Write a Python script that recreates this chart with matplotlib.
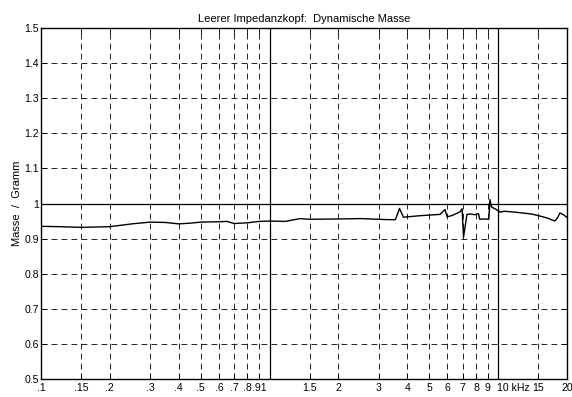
import matplotlib
matplotlib.use("Agg")
import matplotlib.pyplot as plt
from matplotlib.ticker import FixedLocator, NullLocator
from matplotlib.transforms import ScaledTranslation

freq_khz = [0.1, 0.12, 0.15, 0.2, 0.25, 0.3, 0.35, 0.4, 0.45, 0.5, 0.6, 0.65, 0.7, 0.8,
            0.9, 1.0, 1.17, 1.36, 1.5, 2.0, 2.5, 3.0, 3.3, 3.55, 3.7, 3.85, 4.0, 4.5,
            5.0, 5.57, 5.75, 5.85, 5.98, 6.3, 6.8, 6.95, 7.05, 7.15, 7.3, 7.6, 7.9, 8.2,
            8.3, 8.7, 9.1, 9.2, 9.35, 9.8, 10.2, 10.6, 12.0, 14.0, 15.3, 16.5, 17.7,
            18.2, 18.6, 19.3, 20.0]
mass_g = [0.935, 0.934, 0.932, 0.934, 0.942, 0.947, 0.946, 0.942, 0.944, 0.947, 0.948,
          0.949, 0.943, 0.945, 0.949, 0.950, 0.949, 0.957, 0.955, 0.956, 0.957, 0.955,
          0.954, 0.954, 0.986, 0.961, 0.962, 0.965, 0.967, 0.969, 0.978, 0.983, 0.962,
          0.966, 0.976, 0.985, 0.904, 0.930, 0.969, 0.970, 0.968, 0.971, 0.955, 0.956,
          0.955, 1.011, 0.990, 0.983, 0.975, 0.978, 0.975, 0.970, 0.964, 0.958, 0.950,
          0.960, 0.973, 0.968, 0.960]

tick_vals = [0.1, 0.15, 0.2, 0.3, 0.4, 0.5, 0.6, 0.7, 0.8, 0.9, 1, 1.5, 2, 3, 4, 5, 6,
             7, 8, 9, 10, 15, 20]
tick_labels = [".1", ".15", ".2", ".3", ".4", ".5", ".6", ".7", ".8", ".91", "", "1.5",
               "2", "3", "4", "5", "6", "7", "8", "9", "10 kHz", "15", "20"]
y_ticks = [0.5, 0.6, 0.7, 0.8, 0.9, 1.0, 1.1, 1.2, 1.3, 1.4, 1.5]
y_labels = ["0.5", "0.6", "0.7", "0.8", "0.9", "1", "1.1", "1.2", "1.3", "1.4", "1.5"]

plt.rcParams['font.family'] = ['Liberation Sans', 'DejaVu Sans']

fig = plt.figure(figsize=(5.72, 3.97), dpi=100)
ax = fig.add_axes([0.0717, 0.0453, 0.9196, 0.8842])
ax.set_xscale('log')
ax.set_xlim(0.1, 20)
ax.set_ylim(0.5, 1.5)

dash = (0, (7, 5))
for v in tick_vals:
    if v in (1, 10):
        ax.axvline(v, color='black', lw=0.9, zorder=1)
    elif v not in (0.1, 20):
        ax.axvline(v, color='black', lw=0.6, linestyle=dash, zorder=1)
for v in y_ticks:
    if v == 1.0:
        ax.axhline(v, color='black', lw=0.9, zorder=1)
    elif v not in (0.5, 1.5):
        ax.axhline(v, color='black', lw=0.6, linestyle=dash, zorder=1)

ax.plot(freq_khz, mass_g, color='black', lw=1.0, zorder=3)

ax.xaxis.set_major_locator(FixedLocator(tick_vals))
ax.xaxis.set_minor_locator(NullLocator())
ax.set_xticklabels(tick_labels)
ax.set_yticks(y_ticks)
ax.set_yticklabels(y_labels)
ax.tick_params(axis='both', direction='in', length=4, width=0.6, labelsize=7.6)
ax.tick_params(axis='x', top=True, pad=3)
ax.tick_params(axis='y', right=True, pad=1.5)
for s in ax.spines.values():
    s.set_linewidth(1.0)

for lab in ax.get_xticklabels():
    if lab.get_text().startswith("10"):
        lab.set_horizontalalignment('left')
        lab.set_transform(lab.get_transform() + ScaledTranslation(-0.01, 0, fig.dpi_scale_trans))

ax.set_title("Leerer Impedanzkopf:  Dynamische Masse", fontsize=8, pad=4)
ax.set_ylabel("Masse  /  Gramm", fontsize=8, labelpad=2)

fig.savefig("out.png", dpi=100)
